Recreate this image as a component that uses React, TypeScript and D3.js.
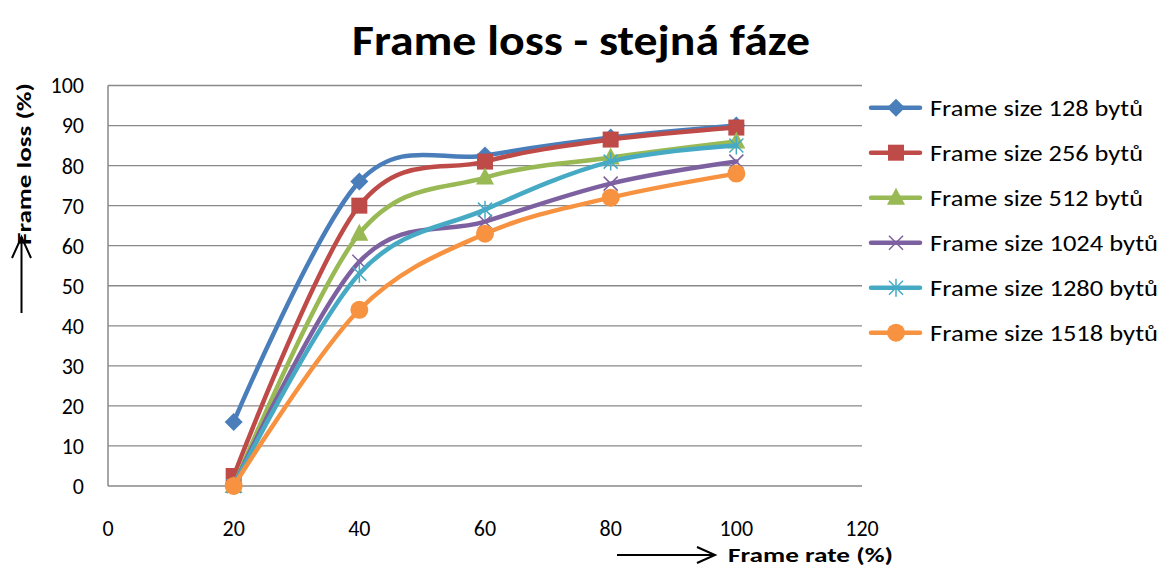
import React from "react";
import * as d3 from "d3";

const xValues = [20, 40, 60, 80, 100];
const seriesNames = [
  "Frame size 128 bytů",
  "Frame size 256 bytů",
  "Frame size 512 bytů",
  "Frame size 1024 bytů",
  "Frame size 1280 bytů",
  "Frame size 1518 bytů",
];
const s128 = [16, 76, 82.5, 87, 90];
const s256 = [2.5, 70, 81, 86.5, 89.5];
const s512 = [0, 63, 77, 82, 86];
const s1024 = [0, 56, 66, 75.5, 81];
const s1280 = [0, 53, 69, 81, 85];
const s1518 = [0, 44, 63, 72, 78];
const seriesValues = [s128, s256, s512, s1024, s1280, s1518];
const colors = ["#4A7EBB", "#BE4B48", "#98B954", "#7D60A0", "#46AAC5", "#F69240"];
const markerKinds = ["diamond", "square", "triangle", "x", "star", "circle"];
const xTicks = [0, 20, 40, 60, 80, 100, 120];
const yTicks = [0, 10, 20, 30, 40, 50, 60, 70, 80, 90, 100];

const FONT = "Carlito, Calibri, Lato, 'Open Sans', sans-serif";

function Marker({ kind, x, y, color }: { kind: string; x: number; y: number; color: string }) {
  switch (kind) {
    case "diamond":
      return <path d={`M${x},${y - 9}L${x + 9},${y}L${x},${y + 9}L${x - 9},${y}Z`} fill={color} />;
    case "square":
      return <rect x={x - 8} y={y - 8} width={16} height={16} fill={color} />;
    case "triangle":
      return <path d={`M${x},${y - 10}L${x + 9},${y + 7}L${x - 9},${y + 7}Z`} fill={color} />;
    case "x":
      return (
        <path
          d={`M${x - 7},${y - 7}L${x + 7},${y + 7}M${x - 7},${y + 7}L${x + 7},${y - 7}`}
          stroke={color}
          strokeWidth={1.5}
          fill="none"
        />
      );
    case "star":
      return (
        <path
          d={`M${x - 7},${y - 7}L${x + 7},${y + 7}M${x - 7},${y + 7}L${x + 7},${y - 7}M${x},${y - 9}L${x},${y + 9}`}
          stroke={color}
          strokeWidth={1.5}
          fill="none"
        />
      );
    default:
      return <circle cx={x} cy={y} r={9} fill={color} />;
  }
}

export default function App() {
  const width = 1162;
  const height = 571;
  const left = 108;
  const right = 862;
  const top = 85.5;
  const bottom = 486;
  const x = d3.scaleLinear().domain([0, 120]).range([left, right]);
  const y = d3.scaleLinear().domain([0, 100]).range([bottom, top]);
  const line = d3
    .line<number>()
    .x((_, i) => x(xValues[i]))
    .y((d) => y(d))
    .curve(d3.curveCardinal.tension(0));

  const legendX = 869;
  const legendY0 = 107.7;
  const legendStep = 45;

  return (
    <svg width={width} height={height} style={{ position: "absolute", left: 0, top: 0 }}>
      <rect width={width} height={height} fill="#fff" />
      <text
        x={581}
        y={55}
        textAnchor="middle"
        fontFamily={FONT}
        fontWeight="bold"
        fontSize={42}
        textLength={458}
        lengthAdjust="spacingAndGlyphs"
        fill="#000"
      >
        Frame loss - stejná fáze
      </text>

      {yTicks.map((t) => (
        <g key={t}>
          {t > 0 && (
            <line x1={left} x2={right} y1={y(t)} y2={y(t)} stroke="#898989" strokeWidth={1.3} />
          )}
          <text
            x={84}
            y={y(t)}
            dy="0.36em"
            textAnchor="end"
            fontFamily={FONT}
            fontSize={22}
            fill="#000"
          >
            {t}
          </text>
        </g>
      ))}
      <line x1={left} x2={left} y1={top} y2={bottom} stroke="#898989" strokeWidth={1.5} />
      <line x1={left} x2={right} y1={bottom} y2={bottom} stroke="#898989" strokeWidth={1.5} />
      {xTicks.map((t) => (
        <text
          key={t}
          x={x(t)}
          y={536}
          textAnchor="middle"
          fontFamily={FONT}
          fontSize={22}
          fill="#000"
        >
          {t}
        </text>
      ))}

      {seriesValues.map((vals, si) => (
        <g key={si}>
          <path d={line(vals) ?? ""} fill="none" stroke={colors[si]} strokeWidth={4.5} strokeLinecap="round" />
          {vals.map((v, i) => (
            <Marker key={i} kind={markerKinds[si]} x={x(xValues[i])} y={y(v)} color={colors[si]} />
          ))}
        </g>
      ))}

      {seriesNames.map((name, si) => {
        const ly = legendY0 + si * legendStep;
        return (
          <g key={name}>
            <line x1={legendX + 2} x2={legendX + 51} y1={ly} y2={ly} stroke={colors[si]} strokeWidth={4.5} strokeLinecap="round" />
            <Marker kind={markerKinds[si]} x={legendX + 27} y={ly} color={colors[si]} />
            <text
              x={930}
              y={ly}
              dy="0.36em"
              fontFamily={FONT}
              fontSize={22.5}
              textLength={name.length > 19 ? 228 : 213}
              lengthAdjust="spacingAndGlyphs"
              fill="#000"
            >
              {name}
            </text>
          </g>
        );
      })}

      {/* Y axis title with arrow */}
      <text
        transform="translate(31,164) rotate(-90)"
        textAnchor="middle"
        fontFamily={FONT}
        fontWeight="bold"
        fontSize={20}
        textLength={162}
        lengthAdjust="spacingAndGlyphs"
        fill="#000"
      >
        Frame loss (%)
      </text>
      <line x1={21.5} x2={21.5} y1={313} y2={237} stroke="#000" strokeWidth={2} />
      <path d="M12,258L21.5,237L31,258" fill="none" stroke="#000" strokeWidth={2} />

      {/* X axis title with arrow */}
      <line x1={617} x2={715} y1={555} y2={555} stroke="#000" strokeWidth={2} />
      <path d="M697,547L715,555L697,563" fill="none" stroke="#000" strokeWidth={2} />
      <text
        x={728}
        y={562}
        fontFamily={FONT}
        fontWeight="bold"
        fontSize={20}
        textLength={165}
        lengthAdjust="spacingAndGlyphs"
        fill="#000"
      >
        Frame rate (%)
      </text>
    </svg>
  );
}
